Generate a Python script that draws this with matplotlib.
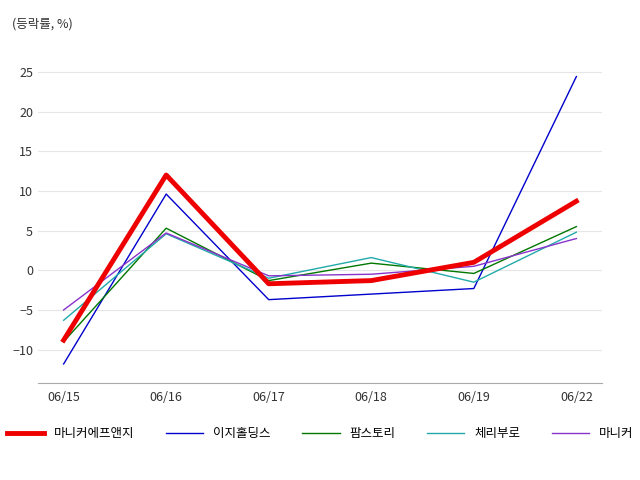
import matplotlib
matplotlib.use("Agg")
import matplotlib.pyplot as plt
plt.rcParams['font.family'] = 'Noto Sans CJK KR'

dates = ["06/15", "06/16", "06/17", "06/18", "06/19", "06/22"]
s_maniker_fng = [-8.8, 12.0, -1.7, -1.3, 1.0, 8.7]
s_easy = [-11.8, 9.6, -3.7, -3.0, -2.3, 24.4]
s_farm = [-9.0, 5.3, -1.3, 0.9, -0.4, 5.5]
s_cherry = [-6.3, 4.6, -1.0, 1.6, -1.5, 4.8]
s_maniker = [-5.0, 4.7, -0.7, -0.5, 0.5, 4.0]
names = ["마니커에프앤지", "이지홀딩스", "팜스토리", "체리부로", "마니커"]

fig = plt.figure(figsize=(6.4, 4.8), dpi=100)
ax = fig.add_axes([38/640, 1-383/480, 564/640, (383-48)/480])
x = range(len(dates))
ax.plot(x, s_maniker_fng, color="#ee0000", lw=3.5, label=names[0], zorder=5)
ax.plot(x, s_easy, color="#0000cc", lw=1, label=names[1])
ax.plot(x, s_farm, color="#007700", lw=1, label=names[2])
ax.plot(x, s_cherry, color="#22aaaa", lw=1, label=names[3])
ax.plot(x, s_maniker, color="#8833cc", lw=1, label=names[4])
ax.set_xlim(-0.25, 5.25)
ax.set_ylim(-14.2, 28)
ax.set_yticks([-10, -5, 0, 5, 10, 15, 20, 25])
ax.set_xticks(list(x))
ax.set_xticklabels(dates)
ax.grid(axis='y', color='#e6e6e6', lw=0.8)
for s in ['top', 'right', 'left']:
    ax.spines[s].set_visible(False)
ax.spines['bottom'].set_color('#aaaaaa')
ax.tick_params(axis='both', length=0, labelsize=9, colors='#333333')
ax.tick_params(axis='x', pad=6)
fig.text(12/640, 1-24/480, "(등락률, %)", fontsize=9, color='#333333', va='center')
fig.legend(loc='center', bbox_to_anchor=(0.5, 1-434/480), ncol=5, frameon=False,
           fontsize=9, handlelength=3, columnspacing=2.5)
fig.savefig("out.png")
